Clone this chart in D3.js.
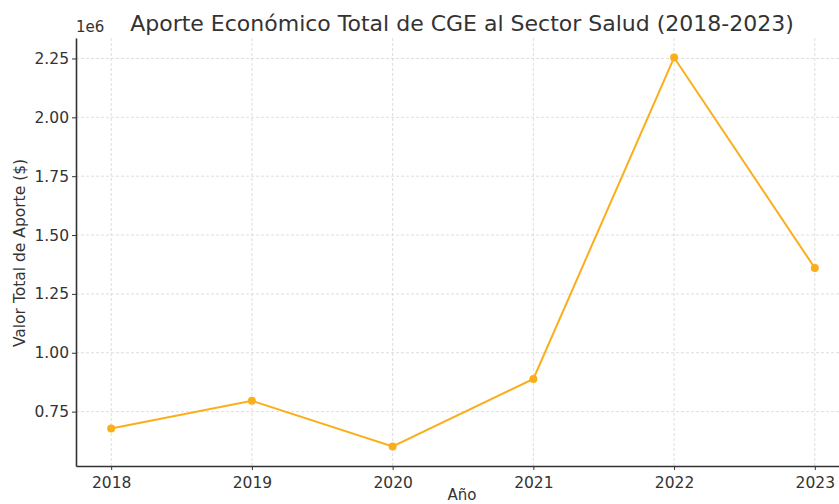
<!DOCTYPE html>
<html>
<head>
<meta charset="utf-8">
<script src="https://cdn.jsdelivr.net/npm/d3@7"></script>
<style>
  body { margin: 0; background: #fff; }
  svg { font-family: "DejaVu Sans", sans-serif; }
</style>
</head>
<body>
<svg id="chart"></svg>
<script>
const years = [2018, 2019, 2020, 2021, 2022, 2023];
const aporte = [678000, 796000, 602000, 889000, 2254000, 1360000];
const yTicks = [0.75, 1.00, 1.25, 1.50, 1.75, 2.00, 2.25];

const width = 839;
const height = 504;
const margin = { top: 38, right: -11, bottom: 38, left: 76 };

const svg = d3.select("#chart")
    .attr("width", width)
    .attr("height", height);

const x = d3.scaleLinear()
    .domain([2017.75, 2023.25])
    .range([margin.left, width - margin.right]);

const y = d3.scaleLinear()
    .domain([0.519e6, 2.337e6])
    .range([height - margin.bottom, margin.top]);

const color = "#FBAE1B";

// grid
svg.append("g")
    .selectAll("line")
    .data(yTicks)
    .join("line")
    .attr("x1", margin.left).attr("x2", width)
    .attr("y1", d => y(d * 1e6)).attr("y2", d => y(d * 1e6))
    .attr("stroke", "#d6d6d6")
    .attr("stroke-width", 0.8)
    .attr("stroke-dasharray", "3,2");

svg.append("g")
    .selectAll("line")
    .data(years)
    .join("line")
    .attr("x1", d => x(d)).attr("x2", d => x(d))
    .attr("y1", margin.top).attr("y2", height - margin.bottom)
    .attr("stroke", "#d6d6d6")
    .attr("stroke-width", 0.8)
    .attr("stroke-dasharray", "3,2");

// axes
const xAxis = svg.append("g")
    .attr("transform", `translate(0, ${height - margin.bottom})`)
    .call(d3.axisBottom(x).tickValues(years).tickFormat(d3.format("d")).tickSize(4).tickSizeOuter(0));

const yAxis = svg.append("g")
    .attr("transform", `translate(${margin.left}, 0)`)
    .call(d3.axisLeft(y).tickValues(yTicks.map(d => d * 1e6))
        .tickFormat(d => d3.format(".2f")(d / 1e6)).tickSize(4).tickSizeOuter(0));

[xAxis, yAxis].forEach(g => {
    g.select(".domain").attr("stroke", "#333").attr("stroke-width", 1.6);
    g.selectAll(".tick line").attr("stroke", "#333");
    g.selectAll(".tick text")
        .attr("fill", "#333")
        .style("font-size", "15.5px")
        .style("font-family", "DejaVu Sans");
});
xAxis.selectAll(".tick text").attr("dy", "0.95em");

// line
const line = d3.line()
    .x((d, i) => x(years[i]))
    .y(d => y(d));

svg.append("path")
    .datum(aporte)
    .attr("fill", "none")
    .attr("stroke", color)
    .attr("stroke-width", 2)
    .attr("d", line);

svg.append("g")
    .selectAll("circle")
    .data(aporte)
    .join("circle")
    .attr("cx", (d, i) => x(years[i]))
    .attr("cy", d => y(d))
    .attr("r", 4)
    .attr("fill", color);

// texts
svg.append("text")
    .attr("x", 462)
    .attr("y", 31)
    .attr("text-anchor", "middle")
    .attr("fill", "#333")
    .style("font-size", "22px")
    .text("Aporte Económico Total de CGE al Sector Salud (2018-2023)");

svg.append("text")
    .attr("x", margin.left)
    .attr("y", 32)
    .attr("fill", "#333")
    .style("font-size", "15px")
    .text("1e6");

svg.append("text")
    .attr("transform", "rotate(-90)")
    .attr("x", -253)
    .attr("y", 25)
    .attr("text-anchor", "middle")
    .attr("fill", "#333")
    .style("font-size", "15.5px")
    .text("Valor Total de Aporte ($)");

svg.append("text")
    .attr("x", 462)
    .attr("y", 500)
    .attr("text-anchor", "middle")
    .attr("fill", "#333")
    .style("font-size", "15px")
    .text("Año");
</script>
</body>
</html>
